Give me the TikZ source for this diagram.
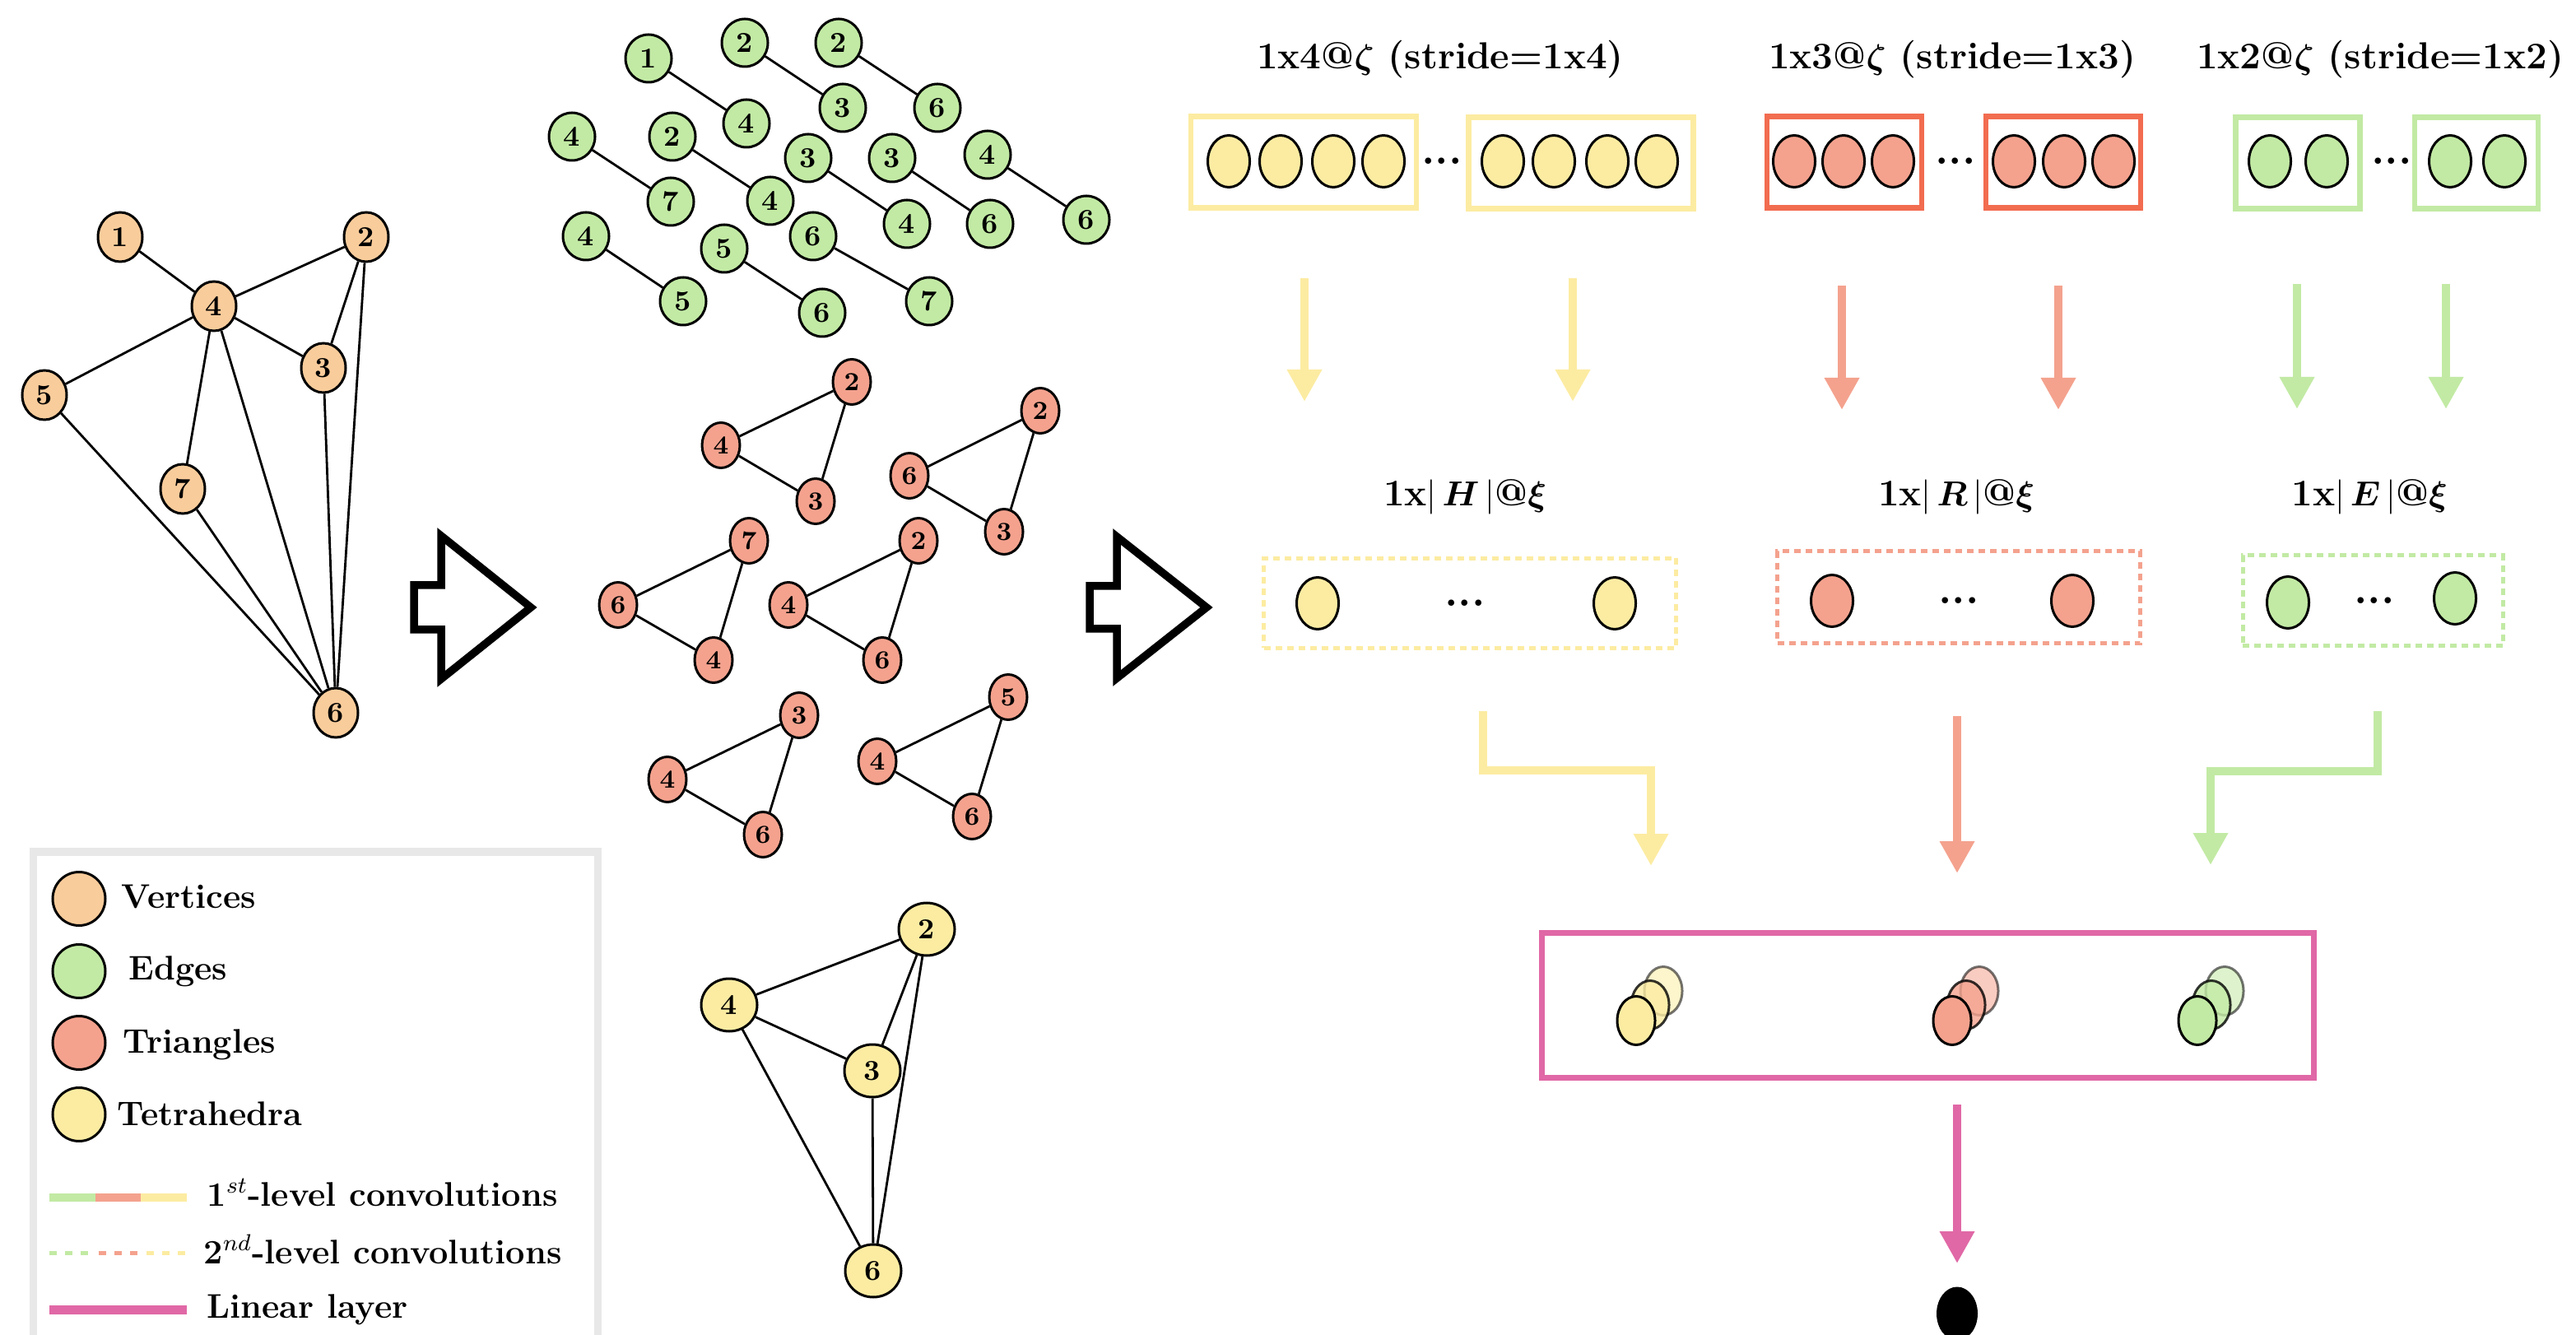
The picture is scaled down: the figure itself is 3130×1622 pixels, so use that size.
\documentclass[tikz,border=0pt]{standalone}
\usepackage{bm}
\usetikzlibrary{shapes.geometric,arrows.meta}

\definecolor{vcol}{RGB}{249,204,155}
\definecolor{ecol}{RGB}{194,234,164}
\definecolor{tcol}{RGB}{244,162,142}
\definecolor{hcol}{RGB}{252,236,162}
\definecolor{redframe}{RGB}{242,108,80}
\definecolor{linpink}{RGB}{224,104,166}
\definecolor{legendgray}{RGB}{232,232,232}

\tikzset{
  blob/.style={ellipse, draw=black, line width=0.3mm, inner sep=0pt},
  vtx/.style={blob, fill=vcol, minimum width=5.4mm, minimum height=6mm,
    font=\bfseries\fontsize{10}{12}\selectfont},
  edg/.style={blob, fill=ecol, minimum width=5.6mm, minimum height=5.8mm,
    font=\bfseries\fontsize{10}{12}\selectfont},
  tri/.style={blob, fill=tcol, minimum width=4.6mm, minimum height=5.5mm,
    font=\bfseries\fontsize{9}{11}\selectfont},
  tet/.style={blob, fill=hcol, minimum width=6.8mm, minimum height=6.4mm,
    font=\bfseries\fontsize{10}{12}\selectfont},
  cell/.style={blob, minimum width=5.1mm, minimum height=6.3mm},
  lnk/.style={line width=0.28mm},
  hdr/.style={font=\bfseries\fontsize{13}{15}\selectfont},
  dots/.style={anchor=base, inner sep=0pt, font=\bfseries\fontsize{15}{16}\selectfont},
  frame/.style={draw, line width=0.65mm, minimum height=11.1mm, inner sep=0pt},
  dframe/.style={draw, line width=0.5mm, dash pattern=on 0.8mm off 0.6mm, inner sep=0pt},
  flow/.style={line width=1mm, -{Triangle[length=3.9mm,width=4mm]}},
  bigarrow/.style={draw=black, line width=0.95mm, line join=miter},
  legtxt/.style={anchor=base west, inner sep=0pt, font=\bfseries\fontsize{11.8}{13}\selectfont},
}

\begin{document}
\begin{tikzpicture}[x=0.1mm, y=-0.1mm]
\useasboundingbox (0,0) rectangle (3130,1622);

% ---------- input graph ----------
\node[vtx] (o1) at (146,288) {1};
\node[vtx] (o2) at (445,288) {2};
\node[vtx] (o4) at (260,372) {4};
\node[vtx] (o3) at (393,447) {3};
\node[vtx] (o5) at (54,480) {5};
\node[vtx] (o7) at (222,594) {7};
\node[vtx] (o6) at (408,866) {6};
\foreach \a/\b in {o1/o4, o4/o2, o4/o3, o2/o3, o2/o6, o4/o5, o4/o7, o4/o6, o3/o6, o5/o6, o7/o6}
  \draw[lnk] (\a) -- (\b);

% ---------- hollow arrows ----------
\draw[bigarrow] (503,711) -- (536,711) -- (536,651) -- (645,738) -- (536,825) -- (536,765) -- (503,765) -- cycle;
\draw[bigarrow] (1324,712) -- (1357,712) -- (1357,652) -- (1466,738) -- (1357,824) -- (1357,764) -- (1324,764) -- cycle;

% ---------- edges (2-cliques) ----------
\foreach \n/\a/\ax/\ay/\b/\bx/\by in {
  1/1/788/71/4/907/150,
  2/2/905/52/3/1024/131,
  3/2/1019/52/6/1139/131,
  4/4/695/166/7/815/245,
  5/2/817/166/4/936/244,
  6/3/982/192/4/1102/272,
  7/3/1084/192/6/1203/272,
  8/4/1200/188/6/1320/267,
  9/4/712/287/5/830/366,
  10/5/880/302/6/999/380,
  11/6/988/287/7/1129/366}
{
  \node[edg] (ga\n) at (\ax,\ay) {\a};
  \node[edg] (gb\n) at (\bx,\by) {\b};
  \draw[lnk] (ga\n) -- (gb\n);
}

% ---------- triangles (3-cliques) ----------
\foreach \n/\p/\px/\py/\q/\qx/\qy/\r/\rx/\ry in {
  1/2/1035/464/4/876/541/3/991/609,
  2/2/1264/499/6/1105/578/3/1220/646,
  3/7/910/657/6/751/735/4/867/802,
  4/2/1116/657/4/958/735/6/1072/802,
  5/3/971/869/4/811/947/6/927/1014,
  6/5/1225/847/4/1066/925/6/1181/992}
{
  \node[tri] (ta\n) at (\px,\py) {\p};
  \node[tri] (tb\n) at (\qx,\qy) {\q};
  \node[tri] (tc\n) at (\rx,\ry) {\r};
  \draw[lnk] (ta\n) -- (tb\n) -- (tc\n) -- (ta\n);
}

% ---------- tetrahedron (4-clique) ----------
\node[tet] (h2) at (1126,1129) {2};
\node[tet] (h4) at (886,1221) {4};
\node[tet] (h3) at (1060,1301) {3};
\node[tet] (h6) at (1061,1544) {6};
\foreach \a/\b in {h4/h2, h4/h3, h2/h3, h2/h6, h3/h6, h4/h6}
  \draw[lnk] (\a) -- (\b);

% ---------- first-level convolutions ----------
\node[hdr] (hd4) at (1750,72) {1x4@$\bm{\zeta}$ (stride=1x4)};
\node[hdr] (hd3) at (2372,72) {1x3@$\bm{\zeta}$ (stride=1x3)};
\node[hdr] (hd2) at (2892,72) {1x2@$\bm{\zeta}$ (stride=1x2)};

\node[frame, draw=hcol, minimum width=27.4mm] (yb1) at (1584,197) {};
\node[frame, draw=hcol, minimum width=27.3mm] (yb2) at (1921,198) {};
\node[frame, draw=redframe, minimum width=18.8mm] (rb1) at (2241,197) {};
\node[frame, draw=redframe, minimum width=18.8mm] (rb2) at (2507,197) {};
\node[frame, draw=ecol, minimum width=15.1mm] (gb1) at (2792,198) {};
\node[frame, draw=ecol, minimum width=15.0mm] (gb2) at (3009,198) {};

\foreach \x [count=\i] in {1493,1556,1620,1681,1826,1888,1953,2013}
  \node[cell, fill=hcol] (yc\i) at (\x,196) {};
\foreach \x [count=\i] in {2180,2240,2300,2447,2508,2568}
  \node[cell, fill=tcol] (rc\i) at (\x,196) {};
\foreach \x [count=\i] in {2758,2827,2977,3043}
  \node[cell, fill=ecol] (ec\i) at (\x,196) {};

\node[dots] (yd1) at (1752,200) {...};
\node[dots] (rd1) at (2376,200) {...};
\node[dots] (ed1) at (2906,200) {...};

\coordinate (ya1) at (1585,338); \coordinate (yt1) at (1585,488);
\coordinate (ya2) at (1911,338); \coordinate (yt2) at (1911,488);
\coordinate (ra1) at (2238,347); \coordinate (rt1) at (2238,498);
\coordinate (ra2) at (2501,347); \coordinate (rt2) at (2501,498);
\coordinate (ea1) at (2791,345); \coordinate (et1) at (2791,497);
\coordinate (ea2) at (2972,345); \coordinate (et2) at (2972,497);
\draw[flow, draw=hcol] (ya1) -- (yt1);
\draw[flow, draw=hcol] (ya2) -- (yt2);
\draw[flow, draw=tcol] (ra1) -- (rt1);
\draw[flow, draw=tcol] (ra2) -- (rt2);
\draw[flow, draw=ecol] (ea1) -- (et1);
\draw[flow, draw=ecol] (ea2) -- (et2);

% ---------- second-level convolutions ----------
\node[hdr] (lh) at (1780,604) {1x$|\,\bm{H}\,|$@$\bm{\xi}$};
\node[hdr] (lr) at (2377,604) {1x$|\,\bm{R}\,|$@$\bm{\xi}$};
\node[hdr] (le) at (2879,604) {1x$|\,\bm{E}\,|$@$\bm{\xi}$};

\node[dframe, draw=hcol, minimum width=50.1mm, minimum height=10.9mm] (yd) at (1786,733) {};
\node[dframe, draw=tcol, minimum width=44.1mm, minimum height=11.2mm] (rd) at (2380,726) {};
\node[dframe, draw=ecol, minimum width=31.6mm, minimum height=11.0mm] (ed) at (2883,730) {};

\node[cell, fill=hcol] (yh1) at (1601,733) {};
\node[cell, fill=hcol] (yh2) at (1962,733) {};
\node[cell, fill=tcol] (rh1) at (2226,730) {};
\node[cell, fill=tcol] (rh2) at (2518,730) {};
\node[cell, fill=ecol] (eh1) at (2780,732) {};
\node[cell, fill=ecol] (eh2) at (2983,727) {};
\node[dots] (yd2) at (1780,737) {...};
\node[dots] (rd2) at (2380,734) {...};
\node[dots] (ed2) at (2885,734) {...};

% ---------- linear layer ----------
\node[draw=linpink, line width=0.7mm, minimum width=93.8mm, minimum height=17.6mm, inner sep=0pt]
  (lin) at (2342,1221) {};
\foreach \cx/\col/\k in {1988/hcol/y, 2372/tcol/r, 2670/ecol/e} {
  \node[cell, fill=\col, minimum width=4.6mm, minimum height=5.9mm, opacity=0.55] (\k s3) at (\cx+33,1204) {};
  \node[cell, fill=\col, minimum width=4.6mm, minimum height=5.9mm, opacity=0.8] (\k s2) at (\cx+17,1221) {};
  \node[cell, fill=\col, minimum width=4.6mm, minimum height=5.9mm] (\k s1) at (\cx,1240) {};
}

\coordinate (yo0) at (1802,864); \coordinate (yo1) at (1802,936);
\coordinate (yo2) at (2006,936); \coordinate (yo3) at (2006,1052);
\coordinate (ro0) at (2378,870); \coordinate (ro1) at (2378,1061);
\coordinate (eo0) at (2889,864); \coordinate (eo1) at (2889,937);
\coordinate (eo2) at (2686,937); \coordinate (eo3) at (2686,1051);
\draw[flow, draw=hcol, line join=miter] (yo0) -- (yo1) -- (yo2) -- (yo3);
\draw[flow, draw=tcol] (ro0) -- (ro1);
\draw[flow, draw=ecol, line join=miter] (eo0) -- (eo1) -- (eo2) -- (eo3);

\coordinate (lo0) at (2378,1342);
\node[ellipse, fill=black, minimum width=5mm, minimum height=6.5mm, inner sep=0pt] (out) at (2378,1596) {};
\draw[flow, draw=linpink] (lo0) -- (2378,1535);

% ---------- legend ----------
\draw[legendgray, line width=0.9mm] (40,1720) -- (40,1035) -- (726,1035) -- (726,1720);
\node[blob, fill=vcol, minimum width=6.4mm, minimum height=6.5mm] (kv) at (96,1092) {};
\node[blob, fill=ecol, minimum width=6.4mm, minimum height=6.5mm] (ke) at (96,1180) {};
\node[blob, fill=tcol, minimum width=6.4mm, minimum height=6.5mm] (kt) at (96,1267) {};
\node[blob, fill=hcol, minimum width=6.4mm, minimum height=6.5mm] (kh) at (96,1354) {};
\node[legtxt] (lv) at (147,1103) {Vertices};
\node[legtxt] (le2) at (156,1190) {Edges};
\node[legtxt] (lt) at (149,1279) {Triangles};
\node[legtxt] (lhh) at (142,1367) {Tetrahedra};

\draw[ecol, line width=1mm] (60,1455) -- (116,1455);
\draw[tcol, line width=1mm] (116,1455) -- (171,1455);
\draw[hcol, line width=1mm] (171,1455) -- (227,1455);
\node[legtxt] (l1) at (251,1465) {1$^{st}$-level convolutions};

\draw[ecol, line width=0.5mm, dash pattern=on 0.9mm off 1mm] (60,1522) -- (116,1522);
\draw[tcol, line width=0.5mm, dash pattern=on 0.9mm off 1mm] (120,1522) -- (176,1522);
\draw[hcol, line width=0.5mm, dash pattern=on 0.9mm off 1mm] (178,1522) -- (234,1522);
\node[legtxt] (l2) at (247,1535) {2$^{nd}$-level convolutions};

\draw[linpink, line width=1.1mm] (60,1591) -- (227,1591);
\node[legtxt] (l3) at (251,1601) {Linear layer};
\end{tikzpicture}
\end{document}
